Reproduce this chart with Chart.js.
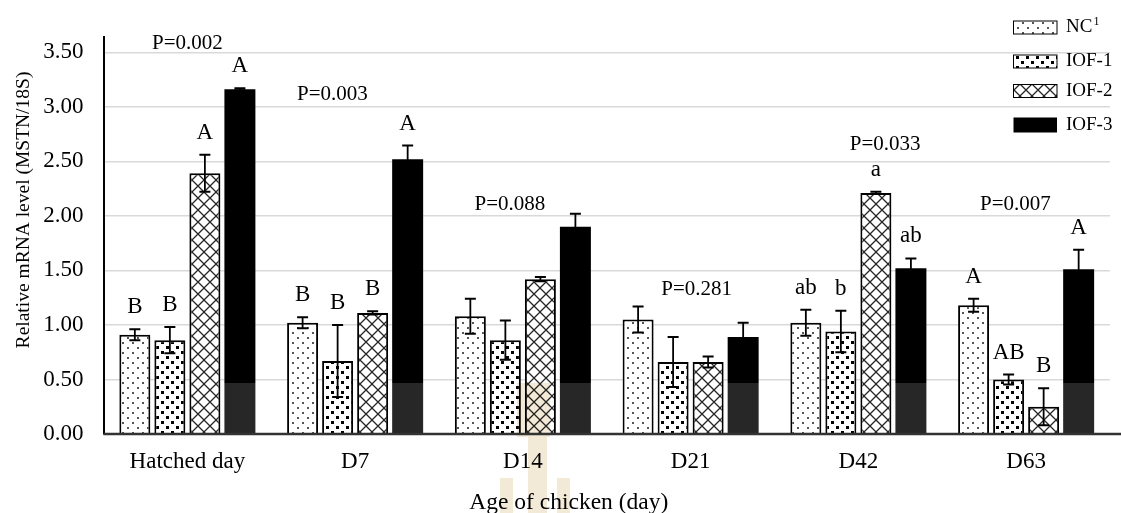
<!DOCTYPE html>
<html><head><meta charset="utf-8">
<script src="https://cdn.jsdelivr.net/npm/chart.js@4.4.1/dist/chart.umd.min.js"></script>
<style>html,body{margin:0;padding:0;background:#fff;overflow:hidden}canvas{display:block}</style>
</head><body>
<canvas id="c" width="1121" height="513"></canvas>
<script>
// ---- data ----
const categories = ['Hatched day','D7','D14','D21','D42','D63'];
const seriesNames = ['NC','IOF-1','IOF-2','IOF-3'];
const ncMean   = [0.91, 1.02, 1.08, 1.05, 1.02, 1.18];
const ncSE     = [0.05, 0.05, 0.16, 0.12, 0.12, 0.06];
const iof1Mean = [0.86, 0.67, 0.86, 0.66, 0.94, 0.50];
const iof1SE   = [0.12, 0.33, 0.18, 0.23, 0.19, 0.045];
const iof2Mean = [2.39, 1.11, 1.42, 0.66, 2.21, 0.25];
const iof2SE   = [0.17, 0.015, 0.02, 0.05, 0.01, 0.17];
const iof3Mean = [3.16, 2.52, 1.90, 0.89, 1.52, 1.51];
const iof3SE   = [0.01, 0.125, 0.12, 0.13, 0.09, 0.18];
const ncLetters   = ['B','B','','','ab','A'];
const iof1Letters = ['B','B','','','b','AB'];
const iof2Letters = ['A','B','','','a','B'];
const iof3Letters = ['A','A','','','ab','A'];
const pValues = ['P=0.002','P=0.003','P=0.088','P=0.281','P=0.033','P=0.007'];
const yTicks = [0, 0.5, 1, 1.5, 2, 2.5, 3, 3.5];

// ---- annotation placement (category offset, y value) ----
const pLabelAt = [[0,3.58],[-0.135,3.11],[-0.077,2.105],[0.036,1.327],[0.16,2.65],[-0.064,2.10]];

const FONT = "'Liberation Serif','Times New Roman',Times,serif";
const canvas = document.getElementById('c');
const mctx = canvas.getContext('2d');

function makePattern(kind){
  const c = document.createElement('canvas');
  const g = c.getContext('2d');
  if (kind === 'dots') {
    c.width = 10; c.height = 10;
    g.fillStyle = '#fff'; g.fillRect(0,0,10,10);
    g.fillStyle = '#555';
    g.fillRect(2,2,2,2); g.fillRect(7,7,2,2);
  } else if (kind === 'squares') {
    c.width = 10; c.height = 10;
    g.fillStyle = '#fff'; g.fillRect(0,0,10,10);
    g.fillStyle = '#000';
    g.fillRect(1,1,3,3); g.fillRect(6,6,3,3);
  } else {
    c.width = 12; c.height = 12;
    g.fillStyle = '#fff'; g.fillRect(0,0,12,12);
    g.strokeStyle = '#262626'; g.lineWidth = 1.3;
    g.beginPath();
    g.moveTo(-1,-1); g.lineTo(13,13);
    g.moveTo(13,-1); g.lineTo(-1,13);
    g.stroke();
  }
  return mctx.createPattern(c,'repeat');
}
const patNC = makePattern('dots');
const patI1 = makePattern('squares');
const patI2 = makePattern('cross');

const bandTop = 0.47;
function iof3Fill(ctx){
  const chart = ctx.chart, a = chart.chartArea;
  if (!a) return '#000';
  const split = chart.scales.y.getPixelForValue(bandTop);
  const f = Math.min(1, Math.max(0, (split - a.top) / (a.bottom - a.top)));
  const g = chart.ctx.createLinearGradient(0, a.top, 0, a.bottom);
  g.addColorStop(0,'#000'); g.addColorStop(f,'#000');
  g.addColorStop(f,'#272727'); g.addColorStop(1,'#272727');
  return g;
}

const errs = [ncSE, iof1SE, iof2SE, iof3SE];
const letters = [ncLetters, iof1Letters, iof2Letters, iof3Letters];
const legendFills = [patNC, patI1, patI2, '#000'];

const annot = {
  id: 'annot',
  afterDatasetsDraw(chart){
    const ctx = chart.ctx, y = chart.scales.y, x = chart.scales.x, a = chart.chartArea;
    ctx.save();
    // faint watermark (multiply)
    ctx.globalCompositeOperation = 'multiply';
    ctx.fillStyle = '#f2e9d6';
    ctx.fillRect(517, 383, 33, 54);
    ctx.fillRect(528, 437, 19, 76);
    ctx.fillRect(500, 478, 13, 35);
    ctx.fillRect(557, 478, 13, 35);
    ctx.globalCompositeOperation = 'source-over';
    // x axis line
    ctx.strokeStyle = '#333'; ctx.lineWidth = 2.5;
    ctx.beginPath(); ctx.moveTo(a.left, a.bottom); ctx.lineTo(chart.width, a.bottom); ctx.stroke();
    // error bars + letters
    chart.data.datasets.forEach((ds, i) => {
      const meta = chart.getDatasetMeta(i);
      meta.data.forEach((bar, j) => {
        const m = ds.data[j], e = errs[i][j];
        const yt = y.getPixelForValue(m + e), yb = y.getPixelForValue(m - e);
        ctx.strokeStyle = '#000';
        ctx.lineWidth = 1.8;
        ctx.beginPath(); ctx.moveTo(bar.x, yt); ctx.lineTo(bar.x, yb); ctx.stroke();
        ctx.lineWidth = 2;
        ctx.beginPath();
        ctx.moveTo(bar.x - 5.5, yt); ctx.lineTo(bar.x + 5.5, yt);
        ctx.moveTo(bar.x - 5.5, yb); ctx.lineTo(bar.x + 5.5, yb);
        ctx.stroke();
        const L = letters[i][j];
        if (L) {
          ctx.fillStyle = '#000';
          ctx.font = '23px ' + FONT;
          ctx.textAlign = 'center'; ctx.textBaseline = 'middle';
          ctx.fillText(L, bar.x, yt - 22);
        }
      });
    });
    // P values
    const step = x.getPixelForValue(1) - x.getPixelForValue(0);
    ctx.font = '21px ' + FONT; ctx.fillStyle = '#000';
    ctx.textAlign = 'center'; ctx.textBaseline = 'middle';
    pValues.forEach((t, i) => {
      const [dx, v] = pLabelAt[i];
      ctx.fillText(t, x.getPixelForValue(i) + dx * step, y.getPixelForValue(v));
    });
    ctx.restore();
  },
  afterDraw(chart){
    const ctx = chart.ctx;
    ctx.save();
    // axis titles
    ctx.fillStyle = '#000';
    ctx.font = '23.5px ' + FONT;
    ctx.textAlign = 'center'; ctx.textBaseline = 'alphabetic';
    ctx.fillText('Age of chicken (day)', 568.8, 509);
    ctx.translate(29, 210); ctx.rotate(-Math.PI/2);
    ctx.font = '19.5px ' + FONT;
    ctx.fillText('Relative mRNA level (MSTN/18S)', 0, 0);
    ctx.restore();
    // legend
    ctx.save();
    const ys = [27.5, 61.5, 91, 125];
    seriesNames.forEach((name, i) => {
      const yc = ys[i];
      const h = i === 3 ? 15 : 13;
      ctx.fillStyle = legendFills[i];
      ctx.fillRect(1013.5, yc - h/2, 43.5, h);
      if (i < 3) { ctx.strokeStyle = '#000'; ctx.lineWidth = 1; ctx.strokeRect(1013.5, yc - h/2, 43.5, h); }
      ctx.fillStyle = '#000';
      ctx.font = '19px ' + FONT; ctx.textAlign = 'left'; ctx.textBaseline = 'middle';
      ctx.fillText(name, 1066, yc);
      if (i === 0) {
        const w = ctx.measureText(name).width;
        ctx.font = '12px ' + FONT;
        ctx.fillText('1', 1066 + w + 1, yc - 6);
      }
    });
    ctx.restore();
  }
};

new Chart(mctx, {
  type: 'bar',
  data: {
    labels: categories,
    datasets: [
      { label: seriesNames[0], data: ncMean,   backgroundColor: patNC, borderColor: '#000', borderWidth: 2 },
      { label: seriesNames[1], data: iof1Mean, backgroundColor: patI1, borderColor: '#000', borderWidth: 2 },
      { label: seriesNames[2], data: iof2Mean, backgroundColor: patI2, borderColor: '#000', borderWidth: 2 },
      { label: seriesNames[3], data: iof3Mean, backgroundColor: iof3Fill, borderWidth: 0 }
    ]
  },
  options: {
    responsive: false,
    animation: false,
    devicePixelRatio: 1,
    categoryPercentage: 0.835,
    barPercentage: 0.885,
    layout: { padding: { top: 37, right: 11, left: 0, bottom: 0 } },
    plugins: { legend: { display: false }, tooltip: { enabled: false }, title: { display: false } },
    scales: {
      x: {
        ticks: { font: { family: FONT, size: 23 }, color: '#000', padding: 14 },
        grid: { display: false, drawTicks: false },
        border: { display: false },
        afterFit: s => { s.height = 79; }
      },
      y: {
        min: 0, max: 3.64,
        afterBuildTicks: s => { s.ticks = yTicks.map(v => ({ value: v })); },
        ticks: { callback: v => Number(v).toFixed(2), font: { family: FONT, size: 23 }, color: '#000', padding: 20 },
        grid: { color: '#d9d9d9', lineWidth: 1.5, drawTicks: false },
        border: { display: true, color: '#000', width: 2 },
        afterFit: s => { s.width = 103.5; }
      }
    }
  },
  plugins: [annot]
});
</script>
</body></html>
